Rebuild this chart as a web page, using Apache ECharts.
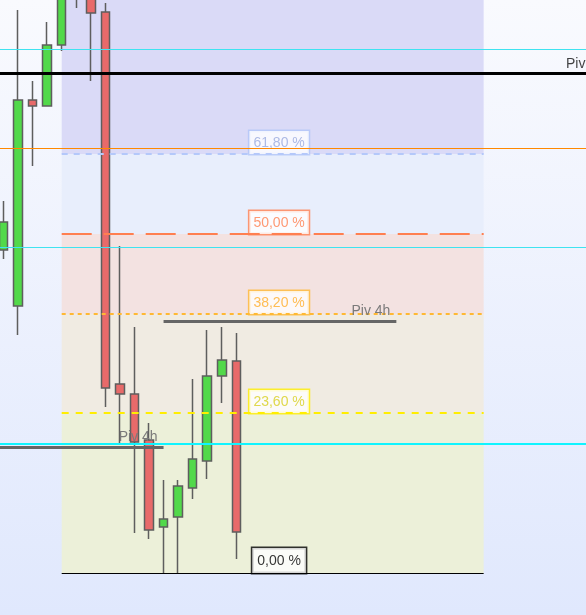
<!DOCTYPE html>
<html><head><meta charset="utf-8">
<script src="https://cdn.jsdelivr.net/npm/echarts@6/dist/echarts.min.js"></script>
<style>html,body{margin:0;padding:0;background:#fff;}#c{width:586px;height:615px;}</style>
</head><body><div id="c"></div>
<script>
// Candle index (slot) and OHLC prices (arbitrary price units)
const candleIndex = [0, 1, 2, 3, 4, 5, 6, 7, 8, 9, 10, 11, 12, 13, 14, 15, 16];
const opens  = [750, 694, 900, 894, 955, 1015, 1060, 988, 616, 606, 560, 473, 483, 512, 539, 624, 639];
const closes = [778, 900, 894, 955, 1020, 1060, 987, 612, 606, 558, 470, 481, 514, 541, 624, 640, 468];
const lows   = [741, 665, 834, 894, 949, 992, 919, 593, 556, 467, 461, 427, 427, 501, 521, 597, 441];
const highs  = [799, 990, 919, 978, 1040, 1080, 1105, 997, 754, 673, 577, 520, 520, 621, 670, 673, 667];

// Fibonacci retracement (from candle 4 to candle 33)
const fibStartX = 4, fibEndX = 33;
const fibLabels = ['0,00 %', '23,60 %', '38,20 %', '50,00 %', '61,80 %'];
const fibPrices = [427, 587, 686, 766, 846];
const fibTop = 1000;
const fibLabelX = 18.94;

// Horizontal levels
const cyanLevels = [951, 753];
const cyanStrong = 556;
const orangeLevel = 852;
const blackPivot = 927;
const pivot4hRight = {from: 11, to: 27, price: 679, text: 'Piv 4h'};
const pivot4hLeft = {from: -0.24, to: 11, price: 553, text: 'Piv 4h'};
const blackPivotLabel = {x: 38.66, text: 'Piv'};

const FONT = '"Liberation Sans", Arial, sans-serif';

const fibLine = [
  {color: '#000000', type: 'solid', width: 1},
  {color: '#ffee00', type: [7, 7], width: 2},
  {color: '#ffb833', type: [4, 4], width: 2},
  {color: '#ff7f50', type: [30, 12], width: 2},
  {color: '#b4c8fa', type: [6, 6], width: 2}
];
const fibBox = [
  {border: '#000000', text: '#000000', pad: [5, 5, 4, 5]},
  {border: '#ffee00', text: '#d8d020', pad: [4, 4, 3, 4]},
  {border: '#ffb833', text: '#ffae2a', pad: [4, 4, 3, 4]},
  {border: '#ff7f50', text: '#ff7f50', pad: [4, 4, 3, 4]},
  {border: '#b0c4f8', text: '#9aaade', pad: [4, 4, 3, 4]}
];
const zoneColors = ['#ecf0d9', '#f0ebe2', '#f3e2e1', '#e8eefc', '#dadaf7'];

const candleData = candleIndex.map((x, i) => [x, opens[i], closes[i], lows[i], highs[i]]);

const zoneBounds = fibPrices.concat([fibTop]);
const zones = zoneColors.map((c, i) => [
  {coord: [fibStartX, zoneBounds[i]], itemStyle: {color: c}},
  {coord: [fibEndX, zoneBounds[i + 1]]}
]);

const lines = [];
cyanLevels.forEach(v => lines.push({yAxis: v, lineStyle: {color: '#3fe3f0', width: 1, type: 'solid'}}));
lines.push({yAxis: cyanStrong, lineStyle: {color: '#10f4ff', width: 2, type: 'solid'}});
lines.push({yAxis: orangeLevel, lineStyle: {color: '#ff8800', width: 1, type: 'solid'}});
lines.push({yAxis: blackPivot, lineStyle: {color: '#000000', width: 3, type: 'solid'}});
[pivot4hRight, pivot4hLeft].forEach(p => lines.push([
  {coord: [p.from, p.price], lineStyle: {color: '#666666', width: 3, type: 'solid'},
   label: {show: true, formatter: p.text, position: 'insideEndTop', distance: [6, 3], color: '#7a7a7a', fontSize: 14, fontFamily: FONT}},
  {coord: [p.to, p.price]}
]));
fibPrices.forEach((v, i) => lines.push([
  {coord: [fibStartX, v], lineStyle: fibLine[i]},
  {coord: [fibEndX, v]}
]));

const labelData = fibPrices.map((v, i) => ({
  value: [fibLabelX, v],
  label: {
    show: true, formatter: fibLabels[i], position: 'top', distance: 0,
    color: fibBox[i].text, fontSize: 14, lineHeight: 16, fontFamily: FONT,
    backgroundColor: '#ffffff', borderColor: fibBox[i].border, borderWidth: 1.5,
    padding: fibBox[i].pad
  }
}));
labelData.push({
  value: [blackPivotLabel.x, blackPivot],
  label: {show: true, formatter: blackPivotLabel.text, position: 'top', align: 'left', distance: 2,
    color: '#111111', fontSize: 14, fontFamily: FONT}
});

const chart = echarts.init(document.getElementById('c'), null, {renderer: 'canvas'});
chart.setOption({
  animation: false,
  backgroundColor: {type: 'linear', x: 0, y: 0, x2: 0, y2: 1,
    colorStops: [{offset: 0, color: '#f9fafe'}, {offset: 1, color: '#e0e8fd'}]},
  grid: {left: 0, right: 0, top: 0, bottom: 0, containLabel: false},
  xAxis: {type: 'value', min: -0.2405, max: 40.034, show: false, splitLine: {show: false}},
  yAxis: {type: 'value', min: 385, max: 1000, show: false, splitLine: {show: false}, scale: true},
  series: [
    {
      type: 'scatter', z: 1, data: [], symbolSize: 0, silent: true,
      markArea: {silent: true, data: zones}
    },
    {
      type: 'candlestick', z: 2, silent: true, barWidth: 9,
      encode: {x: 0, y: [1, 2, 3, 4]},
      data: candleData,
      itemStyle: {color: '#52d94a', color0: '#e86a6a', borderColor: '#5e5e5e', borderColor0: '#5e5e5e', borderWidth: 1.5}
    },
    {
      type: 'scatter', z: 3, data: [], symbolSize: 0, silent: true,
      markLine: {silent: true, symbol: ['none', 'none'], label: {show: false}, data: lines}
    },
    {
      type: 'scatter', z: 4, symbolSize: 0, silent: true, data: labelData
    }
  ]
});
</script></body></html>
